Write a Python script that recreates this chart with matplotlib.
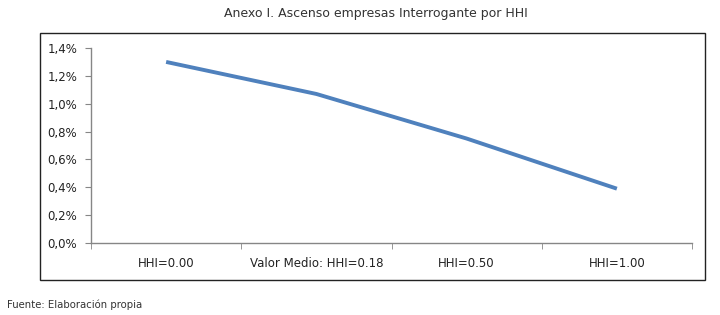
import matplotlib
matplotlib.use("Agg")
import matplotlib.pyplot as plt
from matplotlib.patches import Rectangle
import numpy as np

categories = ["HHI=0.00", "Valor Medio: HHI=0.18", "HHI=0.50", "HHI=1.00"]
values = [1.30, 1.07, 0.75, 0.39]  # percent
yticks = [0.0, 0.2, 0.4, 0.6, 0.8, 1.0, 1.2, 1.4]

W, H = 720, 315
fig = plt.figure(figsize=(W/100, H/100), dpi=100)
ax = fig.add_axes([91/W, 1-243/H, (692-91)/W, (243-48)/H])

x = np.arange(len(categories))
ax.plot(x, values, color="#4F81BD", lw=2.8, solid_capstyle="butt")
ax.set_xlim(-0.5, len(categories)-0.5)
ax.set_ylim(0, 1.4)
ax.set_yticks(yticks)
ax.set_yticklabels([f"{v:.1f}%".replace(".", ",") for v in yticks],
                   fontsize=8.5, color="#222222")
ax.set_xticks(x)
ax.set_xticklabels(categories, fontsize=8.5, color="#222222")
ax.tick_params(axis="x", length=0, pad=10)
ax.set_xticks(np.arange(-0.5, len(categories)), minor=True)
ax.tick_params(axis="x", which="minor", length=4, color="#868686", direction="out")
ax.tick_params(axis="y", length=4, color="#868686", direction="out", pad=6)
for s in ["top", "right"]:
    ax.spines[s].set_visible(False)
for s in ["left", "bottom"]:
    ax.spines[s].set_color("#868686")
    ax.spines[s].set_linewidth(1)

# outer frame
fig.patches.append(Rectangle((40/W, 1-280/H), (705-40)/W, (280-33)/H,
                             transform=fig.transFigure, fill=False,
                             edgecolor="#222222", lw=1))

fig.text(376/W, 1-14/H, "Anexo I. Ascenso empresas Interrogante por HHI",
         ha="center", va="center", fontsize=9, color="#333333",
         family="DejaVu Sans")
fig.text(7/W, 1-305/H, "Fuente: Elaboración propia", ha="left", va="center",
         fontsize=7.3, color="#333333")

fig.savefig("out.png", dpi=100)
